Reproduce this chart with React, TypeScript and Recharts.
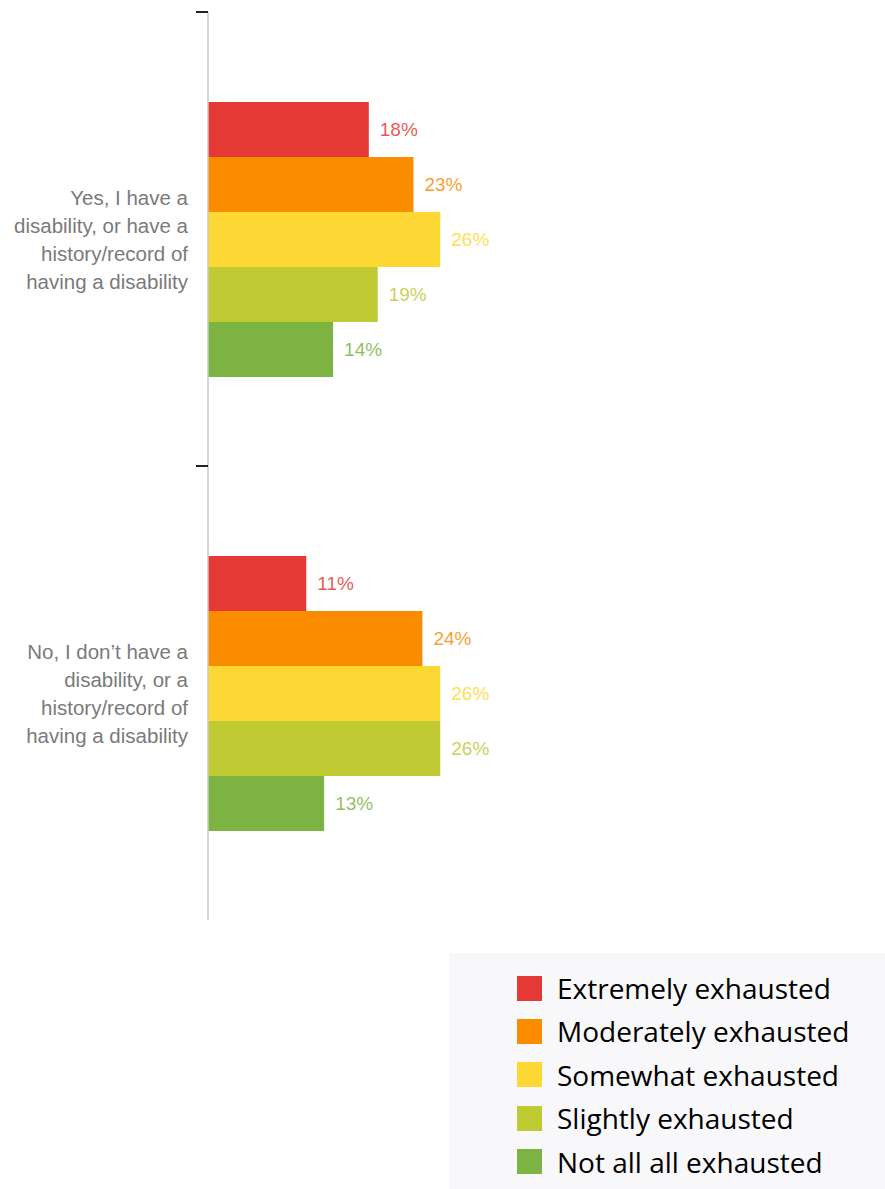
import { BarChart, Bar, XAxis, YAxis, LabelList } from "recharts";

// ─── data ────────────────────────────────────────────────────────────────────

const categories = [
  "Yes, I have a\ndisability, or have a\nhistory/record of\nhaving a disability",
  "No, I don’t have a\ndisability, or a\nhistory/record of\nhaving a disability",
];

const seriesNames = [
  "Extremely exhausted",
  "Moderately exhausted",
  "Somewhat exhausted",
  "Slightly exhausted",
  "Not all all exhausted",
];

const extremely = [18, 11];
const moderately = [23, 24];
const somewhat = [26, 26];
const slightly = [19, 26];
const notAtAll = [14, 13];

const seriesValues = [extremely, moderately, somewhat, slightly, notAtAll];
const colors = ["#E53935", "#FB8C00", "#FDD835", "#C0CA33", "#7CB342"];

const data = categories.map((cat, i) => {
  const row: Record<string, string | number> = { cat };
  seriesNames.forEach((name, s) => {
    row[name] = seriesValues[s][i];
  });
  return row;
});

// ─── layout ──────────────────────────────────────────────────────────────────

const CHART_W = 885;
const CHART_H = 940;
const MARGIN = { top: 12, right: 141, bottom: 20, left: 0 };
const AXIS_W = 208;
const BAND = (CHART_H - MARGIN.top - MARGIN.bottom) / categories.length;
const FONT = "'Liberation Sans', Arial, sans-serif";

function CategoryTick(props: any) {
  const { y, payload } = props;
  const lines = String(payload.value).split("\n");
  const lh = 28;
  return (
    <g>
      <line x1={AXIS_W - 12} x2={AXIS_W} y1={y - BAND / 2} y2={y - BAND / 2} stroke="#222" strokeWidth={2} />
      <text textAnchor="end" fill="#7a7a7a" fontSize={20.5} fontFamily={FONT}>
        {lines.map((l, i) => (
          <tspan key={i} x={AXIS_W - 20} y={y + (i - (lines.length - 1) / 2) * lh} dominantBaseline="central">
            {l}
          </tspan>
        ))}
      </text>
    </g>
  );
}

function Legend() {
  return (
    <div
      style={{
        position: "absolute",
        left: 449,
        top: 953,
        width: 436,
        height: 236,
        background: "#f8f8fb",
        fontFamily: "'Open Sans', 'Noto Sans', sans-serif",
      }}
    >
      {seriesNames.map((name, i) => (
        <div
          key={name}
          style={{ position: "absolute", left: 68, top: 35 - 14 + i * 43.4, height: 28, display: "flex", alignItems: "center" }}
        >
          <div style={{ width: 25, height: 25, background: colors[i], marginRight: 15 }} />
          <span style={{ fontSize: 28, color: "#000", whiteSpace: "nowrap" }}>{name}</span>
        </div>
      ))}
    </div>
  );
}

export default function App() {
  return (
    <div style={{ position: "absolute", left: 0, top: 0, width: 885, height: 1189, background: "#fff" }}>
      <BarChart width={CHART_W} height={CHART_H} data={data} layout="vertical" margin={MARGIN} barGap={0}>
        <XAxis type="number" domain={[0, 60]} hide />
        <YAxis
          type="category"
          dataKey="cat"
          width={AXIS_W}
          axisLine={{ stroke: "#c8c8c8", strokeWidth: 1.5 }}
          tickLine={false}
          tick={<CategoryTick />}
          interval={0}
        />
        {seriesNames.map((name, i) => (
          <Bar key={name} dataKey={name} fill={colors[i]} barSize={55} isAnimationActive={false}>
            <LabelList
              dataKey={name}
              position="right"
              offset={11}
              formatter={(v: any) => `${v}%`}
              fill={colors[i]}
              fontSize={19}
              fontFamily={FONT}
              fillOpacity={0.85}
            />
          </Bar>
        ))}
      </BarChart>
      <Legend />
    </div>
  );
}
